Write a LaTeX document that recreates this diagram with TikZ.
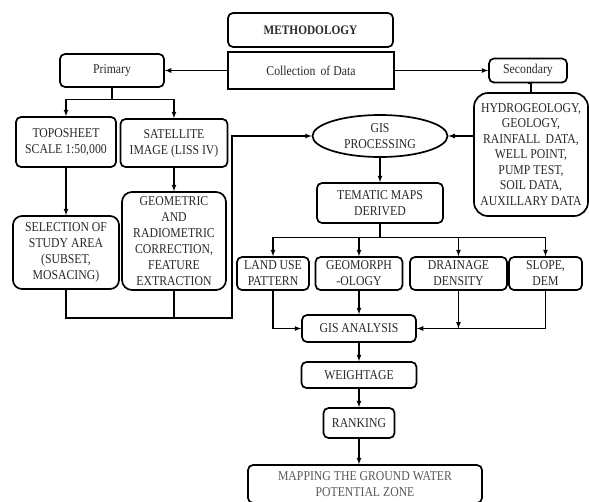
\documentclass[tikz,border=0pt]{standalone}
\usepackage{fontspec}
\setmainfont{Liberation Serif}[FakeStretch=0.87]
\usepackage{xcolor}
\usepackage{tikz}
\usetikzlibrary{calc, arrows.meta, positioning, shapes.geometric}

\definecolor{txtgray}{HTML}{282828}
\definecolor{mapgray}{HTML}{585858}

\begin{document}
\begin{tikzpicture}[x=1pt, y=-1pt, >=latex, line width=1.2pt]
		\tikzstyle{box} = [line width=1.7pt, draw=black, rounded corners=5pt, align=center, inner sep=0pt, text=txtgray, font=\fontsize{13.5}{16}\selectfont]
		\tikzstyle{plain} = [box, rounded corners=0pt]
		\tikzstyle{oval} = [box, ellipse]
		
		\useasboundingbox (0, 0) rectangle (589, 501);
		
		\node[box, minimum width=165, minimum height=34, font=\fontsize{13}{16}\selectfont\bfseries] 	at (310.5, 30) 	(meth) 	{METHODOLOGY};
		\node[plain, minimum width=166, minimum height=37] 	at (311, 70.5) 	(coll) 	{Collection\, of Data};
		\node[box, minimum width=104, minimum height=33] 	at (112, 70.5) 	(prim) 	{Primary};
		\node[box, minimum width=78, minimum height=24] 	at (528, 70.5) 	(sec) 	{Secondary};
		
		\node[box, minimum width=100, minimum height=50] 	at (66, 142) 	(topo) 	{TOPOSHEET\\SCALE 1:50,000};
		\node[box, minimum width=107, minimum height=48] 	at (174, 143) 	(sat) 	{SATELLITE\\IMAGE (LISS IV)};
		\node[box, rounded corners=9pt, minimum width=106, minimum height=73] 	at (66, 252.5) 	(sel) 	{SELECTION OF\\STUDY AREA\\(SUBSET,\\MOSACING)};
		\node[box, rounded corners=10pt, minimum width=104, minimum height=98] 	at (174, 241) 	(geo) 	{GEOMETRIC\\AND\\RADIOMETRIC\\CORRECTION,\\FEATURE\\EXTRACTION};
		
		\node[oval, minimum width=135, minimum height=42] 	at (380, 136) 	(gisp) 	{GIS\\PROCESSING};
		\node[box, rounded corners=14pt, minimum width=114, minimum height=123, font=\fontsize{13.5}{15.5}\selectfont] 	at (531, 154.5) 	(data) 	{HYDROGEOLOGY,\\GEOLOGY,\\RAINFALL\, DATA,\\WELL POINT,\\PUMP TEST,\\SOIL DATA,\\AUXILLARY DATA};
		\node[box, minimum width=126, minimum height=40] 	at (380, 203) 	(tem) 	{TEMATIC MAPS\\DERIVED};
		
		\node[box, minimum width=72, minimum height=33] 	at (273, 273.5) 	(land) 	{LAND USE\\PATTERN};
		\node[box, minimum width=87, minimum height=33] 	at (359, 273.5) 	(geom) 	{GEOMORPH\\-OLOGY};
		\node[box, minimum width=97, minimum height=33] 	at (458.5, 273.5) 	(drain) 	{DRAINAGE\\DENSITY};
		\node[box, minimum width=73, minimum height=33] 	at (545.5, 273.5) 	(slope) 	{SLOPE,\\DEM};
		
		\node[box, minimum width=114, minimum height=27] 	at (359, 328.5) 	(gisa) 	{GIS ANALYSIS};
		\node[box, minimum width=115, minimum height=26] 	at (359, 375) 	(wt) 	{WEIGHTAGE};
		\node[box, minimum width=71, minimum height=30] 	at (359, 423) 	(rank) 	{RANKING};
		\node[box, minimum width=234, minimum height=38, text=mapgray] 	at (365, 484) 	(map) 	{MAPPING THE GROUND WATER\\POTENTIAL ZONE};
		
		\coordinate (join) at (232, 318);
		
		\path[->]
		(coll)	edge	(prim)
		(coll)	edge	(sec)
		(topo)	edge	(sel)
		(sat)	edge	(geo)
		(gisp)	edge	(tem)
		(geom)	edge	(gisa)
		(gisa)	edge	(wt)
		(wt)	edge	(rank);
		
		\draw[->] (prim.south) -- ++(0, 12) -| (topo.north);
		\draw[->] (prim.south) -- ++(0, 12) -| (sat.north);
		\draw[->] (sel.south) |- (join) |- (gisp.west);
		\draw (geo.south) -- (geo.south |- join);
		\draw (sec.south) -- (data.north |- sec.south) -- (data.north);
		\draw[->] (data.west |- gisp.east) -- (gisp.east);
		
		\draw[->] (tem.south) -- ++(0, 14) -| (land.north);
		\draw[->] (tem.south) -- ++(0, 14) -| (geom.north);
		\draw[->] (tem.south) -- ++(0, 14) -| (drain.north);
		\draw[->] (tem.south) -- ++(0, 14) -| (slope.north);
		
		\draw[->] (land.south) |- (gisa.west);
		\draw[->] (slope.south) |- (gisa.east);
		\draw[->] (drain.south) -- (drain.south |- gisa.east);
		\draw[->] (rank.south) -- (rank.south |- map.north);
\end{tikzpicture}
\end{document}
